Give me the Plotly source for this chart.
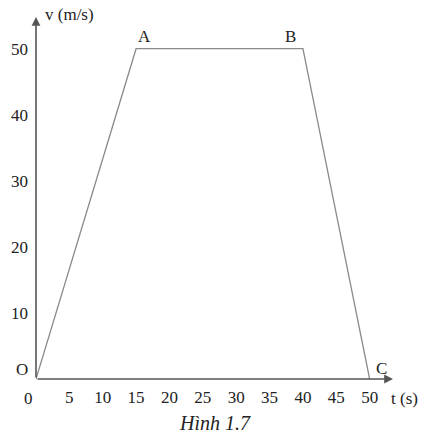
import plotly.graph_objects as go

t_vals = [0, 15, 40, 50]
v_vals = [0, 50, 50, 0]
point_labels = ["O", "A", "B", "C"]
x_ticks = [5, 10, 15, 20, 25, 30, 35, 40, 45, 50]
y_ticks = [10, 20, 30, 40, 50]

FONT = "Liberation Serif, Times New Roman, serif"
FS = 17

fig = go.Figure()
fig.add_trace(go.Scatter(x=t_vals, y=v_vals, mode="lines",
                         line=dict(color="#8a8a8a", width=1.3),
                         hoverinfo="skip", showlegend=False))

ann = []
# axes arrows
ann.append(dict(x=53.5, y=0, ax=0, ay=0, xref="x", yref="y", axref="x", ayref="y",
                showarrow=True, arrowhead=2, arrowsize=1.1, arrowwidth=1.6,
                arrowcolor="#555555", text=""))
ann.append(dict(x=0, y=54.8, ax=0, ay=0, xref="x", yref="y", axref="x", ayref="y",
                showarrow=True, arrowhead=2, arrowsize=1.1, arrowwidth=1.6,
                arrowcolor="#555555", text=""))
# point labels
offsets = {"O": (-14, 10), "A": (8, 12), "B": (-12, 12), "C": (12, 11)}
for x, y, lab in zip(t_vals, v_vals, point_labels):
    dx, dy = offsets[lab]
    ann.append(dict(x=x, y=y, xref="x", yref="y", text=lab, showarrow=False,
                    xshift=dx, yshift=dy, font=dict(family=FONT, size=FS, color="#222")))
# zero tick label
ann.append(dict(x=0, y=0, xref="x", yref="y", text="0", showarrow=False,
                xshift=-8, yshift=-19, font=dict(family=FONT, size=FS, color="#222")))
# axis titles
ann.append(dict(x=0, y=54.8, xref="x", yref="y", text="v (m/s)", showarrow=False,
                xanchor="left", xshift=7, yshift=3, font=dict(family=FONT, size=FS, color="#222")))
ann.append(dict(x=53.5, y=0, xref="x", yref="y", text="t (s)", showarrow=False,
                xanchor="left", xshift=-4, yshift=-19, font=dict(family=FONT, size=FS, color="#222")))
# caption
ann.append(dict(x=0.5, y=-0.122, xref="paper", yref="paper", yanchor="middle",
                text="<i>Hình 1.7</i>", showarrow=False,
                font=dict(family=FONT, size=20, color="#222")))

fig.update_layout(
    width=427, height=434,
    margin=dict(l=36, r=34, t=17, b=55),
    paper_bgcolor="white", plot_bgcolor="white",
    font=dict(family=FONT, size=FS, color="#222"),
    annotations=ann,
    xaxis=dict(range=[0, 53.5], tickvals=x_ticks, ticktext=[str(v) for v in x_ticks],
               showgrid=False, zeroline=False, showline=False, ticks="", automargin=False,
               tickfont=dict(family=FONT, size=FS, color="#222"), ticklabelstandoff=6),
    yaxis=dict(range=[0, 54.8], tickvals=y_ticks, ticktext=[str(v) for v in y_ticks],
               showgrid=False, zeroline=False, showline=False, ticks="", automargin=False,
               tickfont=dict(family=FONT, size=FS, color="#222"), ticklabelstandoff=7),
)
fig.write_html("out.html", config={"displayModeBar": False},
               post_script="document.body.style.margin='0';document.body.style.overflow='hidden';")
